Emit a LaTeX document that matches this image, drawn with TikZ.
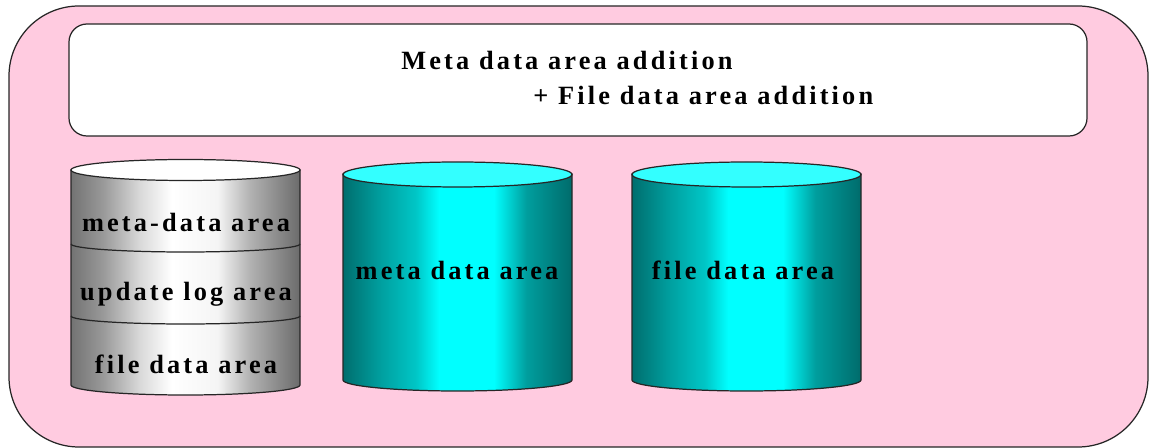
\documentclass[tikz,border=0pt]{standalone}
\usepackage{fontspec}
\setmainfont{Liberation Serif}[LetterSpace=12]
\usepackage{tikz}

\definecolor{panelpink}{HTML}{FFCBE0}
\definecolor{topcyan}{HTML}{33FFFF}
\pgfdeclarehorizontalshading{greydrum}{100bp}{color(0bp)=(black!55); color(25bp)=(black!55); color(32bp)=(black!40); color(40bp)=(black!15); color(47bp)=(white); color(57bp)=(black!4); color(64bp)=(black!30); color(75bp)=(black!58); color(100bp)=(black!58)}
\pgfdeclarehorizontalshading{cyandrum}{100bp}{color(0bp)=(cyan!43!black); color(25bp)=(cyan!43!black); color(33bp)=(cyan!62!black); color(41bp)=(cyan!78!black); color(46bp)=(cyan); color(58bp)=(cyan); color(65bp)=(cyan!62!black); color(75bp)=(cyan!42!black); color(100bp)=(cyan!42!black)}
\tikzset{
  outline/.style = {draw = black!85, line width = 0.7pt},
  drumtop/.style = {outline, fill = #1},
  drumlabel/.style = {font = \bfseries\fontsize{15}{18}\selectfont, inner sep = 0pt, text = black},
  bannerlabel/.style = {drumlabel, anchor = west}
}

\begin{document}
\begin{tikzpicture}[x = 0.02cm, y = -0.02cm]
\useasboundingbox (0, 0) rectangle (1151, 448);
% Panels
\draw[outline, fill = panelpink, rounded corners = 1.4cm] (9, 6) rectangle (1148, 447);
\draw[outline, fill = white, rounded corners = 0.36cm] (69, 24) rectangle (1087, 136);
\node[bannerlabel] (metaaddition) at (401, 60) {Meta data area addition};
\node[bannerlabel] (fileaddition) at (533, 95) {+ File data area addition};
% Grey drum
\draw[outline, shading = greydrum] (71, 170) -- (71, 385) arc[start angle = 180, end angle = 360, x radius = 114.5, y radius = -10] -- (300, 170) -- cycle;
\draw[drumtop = white] (185.5, 170) ellipse[x radius = 114.5, y radius = 10.5];
\draw[outline] (71, 244) arc[start angle = 180, end angle = 360, x radius = 114.5, y radius = -8];
\draw[outline] (71, 316) arc[start angle = 180, end angle = 360, x radius = 114.5, y radius = -8];
\node[drumlabel] (greymeta) at (186, 222) {meta-data area};
\node[drumlabel] (greylog) at (186, 294) {update log area};
\node[drumlabel] (greyfile) at (186, 364) {file data area};
% Cyan drums
\draw[outline, shading = cyandrum] (343, 174) -- (343, 380) arc[start angle = 180, end angle = 360, x radius = 114.5, y radius = -11] -- (572, 174) -- cycle;
\draw[drumtop = topcyan] (457.5, 174.5) ellipse[x radius = 114.5, y radius = 12.5];
\node[drumlabel] (cyanmeta) at (457, 270) {meta data area};
\draw[outline, shading = cyandrum] (632, 174) -- (632, 380) arc[start angle = 180, end angle = 360, x radius = 114.5, y radius = -11] -- (861, 174) -- cycle;
\draw[drumtop = topcyan] (746.5, 174.5) ellipse[x radius = 114.5, y radius = 12.5];
\node[drumlabel] (cyanfile) at (743, 270) {file data area};
\end{tikzpicture}
\end{document}
